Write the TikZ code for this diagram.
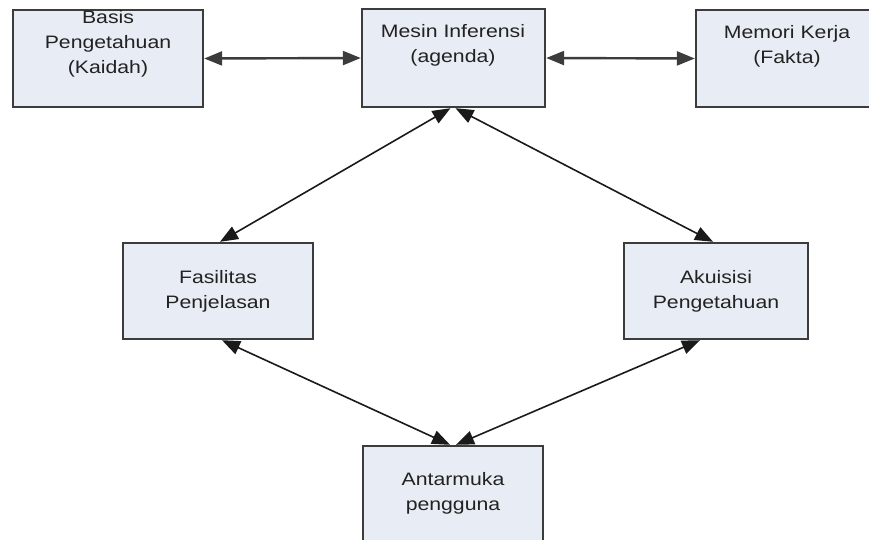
\documentclass[tikz,border=0pt]{standalone}
\usepackage{fontspec}
\setmainfont{Liberation Sans}[FakeStretch=1.18]
\usetikzlibrary{arrows.meta}
\definecolor{boxfill}{HTML}{E8ECF5}
\definecolor{boxline}{HTML}{3C3C3C}
\definecolor{txtcol}{HTML}{222222}
\definecolor{arrcol}{HTML}{1A1A1A}
\tikzset{
  box/.style={draw=boxline, fill=boxfill, line width=2.4pt, rectangle, inner sep=0pt},
  txt/.style={align=center, text=txtcol, font=\fontsize{18}{25}\selectfont, inner sep=0pt},
  link/.style={draw=arrcol, line width=1.6pt, {Triangle[length=18pt,width=14pt]}-{Triangle[length=18pt,width=14pt]}},
  hlink/.style={link, line width=2.4pt, draw=boxline}
}
\begin{document}
\begin{tikzpicture}[x=1pt,y=-1pt]
\useasboundingbox (0,0) rectangle (869,540);
\begin{scope}
\clip (0,0) rectangle (869,540);
\node[box, minimum width=190pt, minimum height=97pt] (basis) at (108,58.5) {};
\node[box, minimum width=183pt, minimum height=98pt] (mesin) at (453.5,58) {};
\node[box, minimum width=182pt, minimum height=97pt] (memori) at (787,58.5) {};
\node[box, minimum width=190pt, minimum height=96pt] (fasil) at (218,291) {};
\node[box, minimum width=184pt, minimum height=96pt] (akuis) at (716,291) {};
\node[box, minimum width=180pt, minimum height=97pt] (antar) at (453,494.5) {};

\node[txt] (basis-t) at (108,44) {Basis\\Pengetahuan\\(Kaidah)};
\node[txt] (mesin-t) at (453,45) {Mesin Inferensi\\(agenda)};
\node[txt] (memori-t) at (787,46) {Memori Kerja\\(Fakta)};
\node[txt] (fasil-t) at (218,291) {Fasilitas\\Penjelasan};
\node[txt] (akuis-t) at (716,291) {Akuisisi\\Pengetahuan};
\node[txt] (antar-t) at (453,493) {Antarmuka\\pengguna};

\draw[hlink] (basis.east) -- (mesin.west);
\draw[hlink] (mesin.east) -- (memori.west);
\draw[link] ([xshift=-3pt]mesin.south) -- ([xshift=2pt]fasil.north);
\draw[link] ([xshift=2pt]mesin.south) -- ([xshift=-3pt]akuis.north);
\draw[link] ([xshift=4pt]fasil.south) -- ([xshift=-3pt]antar.north);
\draw[link] ([xshift=-16pt]akuis.south) -- ([xshift=3pt]antar.north);
\end{scope}
\end{tikzpicture}
\end{document}
